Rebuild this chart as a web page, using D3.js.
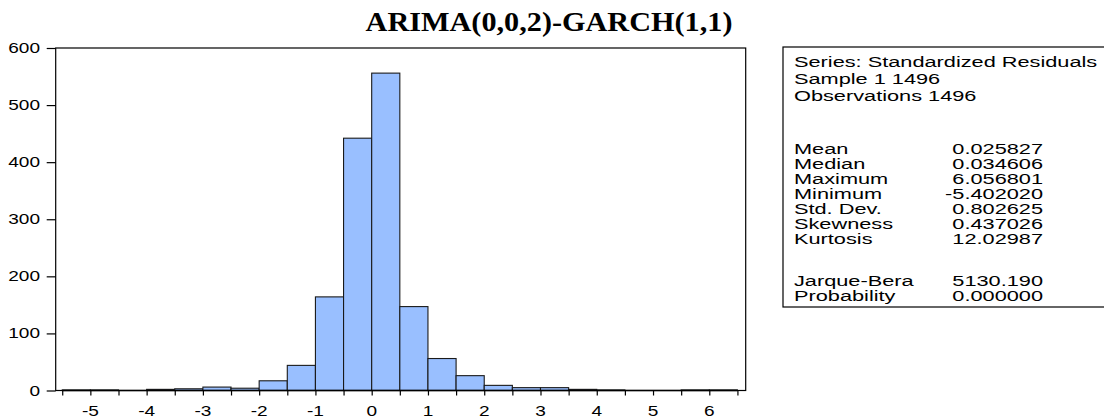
<!DOCTYPE html>
<html><head><meta charset="utf-8">
<script src="https://cdn.jsdelivr.net/npm/d3@7"></script>
<style>body{margin:0;background:#fff}</style>
</head><body>
<svg id="c" width="1104" height="419"></svg>
<script>
// ---- data ----
const title = "ARIMA(0,0,2)-GARCH(1,1)";
const binStarts = [-5.5,-5.0,-4.5,-4.0,-3.5,-3.0,-2.5,-2.0,-1.5,-1.0,-0.5,0.0,0.5,1.0,1.5,2.0,2.5,3.0,3.5,4.0,4.5,5.0,5.5,6.0];
const counts    = [1,1,0,2,3,6,4,17,44,164,442,556,147,56,26,9,5,5,2,1,0,0,1,1];
const binWidth = 0.5;
const yTicks = [0,100,200,300,400,500,600];
const xMinorTicks = [-5.5,-5,-4.5,-4,-3.5,-3,-2.5,-2,-1.5,-1,-0.5,0,0.5,1,1.5,2,2.5,3,3.5,4,4.5,5,5.5,6,6.5];
const xLabelTicks = [-5,-4,-3,-2,-1,0,1,2,3,4,5,6];
const headerLines = ["Series: Standardized Residuals","Sample 1 1496","Observations 1496"];
const statLabels = ["Mean","Median","Maximum","Minimum","Std. Dev.","Skewness","Kurtosis"];
const statValues = ["0.025827","0.034606","6.056801","-5.402020","0.802625","0.437026","12.02987"];
const testLabels = ["Jarque-Bera","Probability"];
const testValues = ["5130.190","0.000000"];

// ---- layout ----
const svg = d3.select("#c");
const L = 55.7, R = 745.7, T = 48, B = 390.5;
const x = d3.scaleLinear().domain([-5.616, 6.647]).range([L, R]);
const y = d3.scaleLinear().domain([0, 600]).range([B, T]);
const sx = 1.36; // horizontal stretch of axis labels

function stext(g, tx, ty, str, opts) {
  return g.append("text")
    .attr("transform", `translate(${tx},${ty}) scale(${opts.sx||1},1)`)
    .attr("text-anchor", opts.anchor || "start")
    .attr("font-family", opts.family || "'Liberation Sans', Arial, sans-serif")
    .attr("font-size", opts.size || 13)
    .attr("font-weight", opts.weight || "normal")
    .attr("fill", "#000")
    .text(str);
}

// title
stext(svg, 549, 31, title, {anchor:"middle", family:"'Liberation Serif','Times New Roman',serif", size:27, weight:"bold", sx:1.12});

// bars
svg.append("g").selectAll("rect").data(binStarts.map((s,i)=>({s, c:counts[i]})))
  .join("rect")
  .attr("x", d => x(d.s))
  .attr("width", d => x(d.s + binWidth) - x(d.s))
  .attr("y", d => y(d.c))
  .attr("height", d => y(0) - y(d.c))
  .attr("fill", "#99BFFF")
  .attr("stroke", "#1a1a1a")
  .attr("stroke-width", 1.1);

// frame
svg.append("rect").attr("x", L).attr("y", T).attr("width", R-L).attr("height", B-T)
  .attr("fill", "none").attr("stroke", "#000").attr("stroke-width", 1.2);

// y axis ticks
const yAxis = svg.append("g").attr("transform", `translate(${L},0)`)
  .call(d3.axisLeft(y).tickValues(yTicks).tickSize(9).tickFormat(""));
yAxis.select(".domain").remove();
yAxis.selectAll("line").attr("stroke", "#000").attr("stroke-width", 1.2);
yTicks.forEach(v => stext(svg, 40, y(v) + 5, String(v), {anchor:"end", size:14, sx:sx}));

// x axis ticks
const xAxis = svg.append("g").attr("transform", `translate(0,${B})`)
  .call(d3.axisBottom(x).tickValues(xMinorTicks).tickSize(5).tickFormat(""));
xAxis.select(".domain").remove();
xAxis.selectAll("line").attr("stroke", "#000").attr("stroke-width", 1.2);
svg.append("line").attr("x1", x(-5.5)).attr("x2", x(6.5)).attr("y1", B).attr("y2", B)
  .attr("stroke", "#000").attr("stroke-width", 1.6);
xLabelTicks.forEach(v => stext(svg, x(v), 416, String(v), {anchor:"middle", size:14, sx:sx}));

// stats box
const box = svg.append("g");
box.append("rect").attr("x", 783).attr("y", 47).attr("width", 330).attr("height", 260)
  .attr("fill", "#fff").attr("stroke", "#000").attr("stroke-width", 1.2);
const bs = 1.5, fs = 14.5;
headerLines.forEach((s,i) => stext(box, 794, 67 + i*17, s, {size:fs, sx:bs}));
statLabels.forEach((s,i) => {
  stext(box, 794, 154 + i*15, s, {size:fs, sx:bs});
  stext(box, 1043, 154 + i*15, statValues[i], {size:fs, sx:bs, anchor:"end"});
});
testLabels.forEach((s,i) => {
  stext(box, 794, 286 + i*15, s, {size:fs, sx:bs});
  stext(box, 1043, 286 + i*15, testValues[i], {size:fs, sx:bs, anchor:"end"});
});
</script>
</body></html>
